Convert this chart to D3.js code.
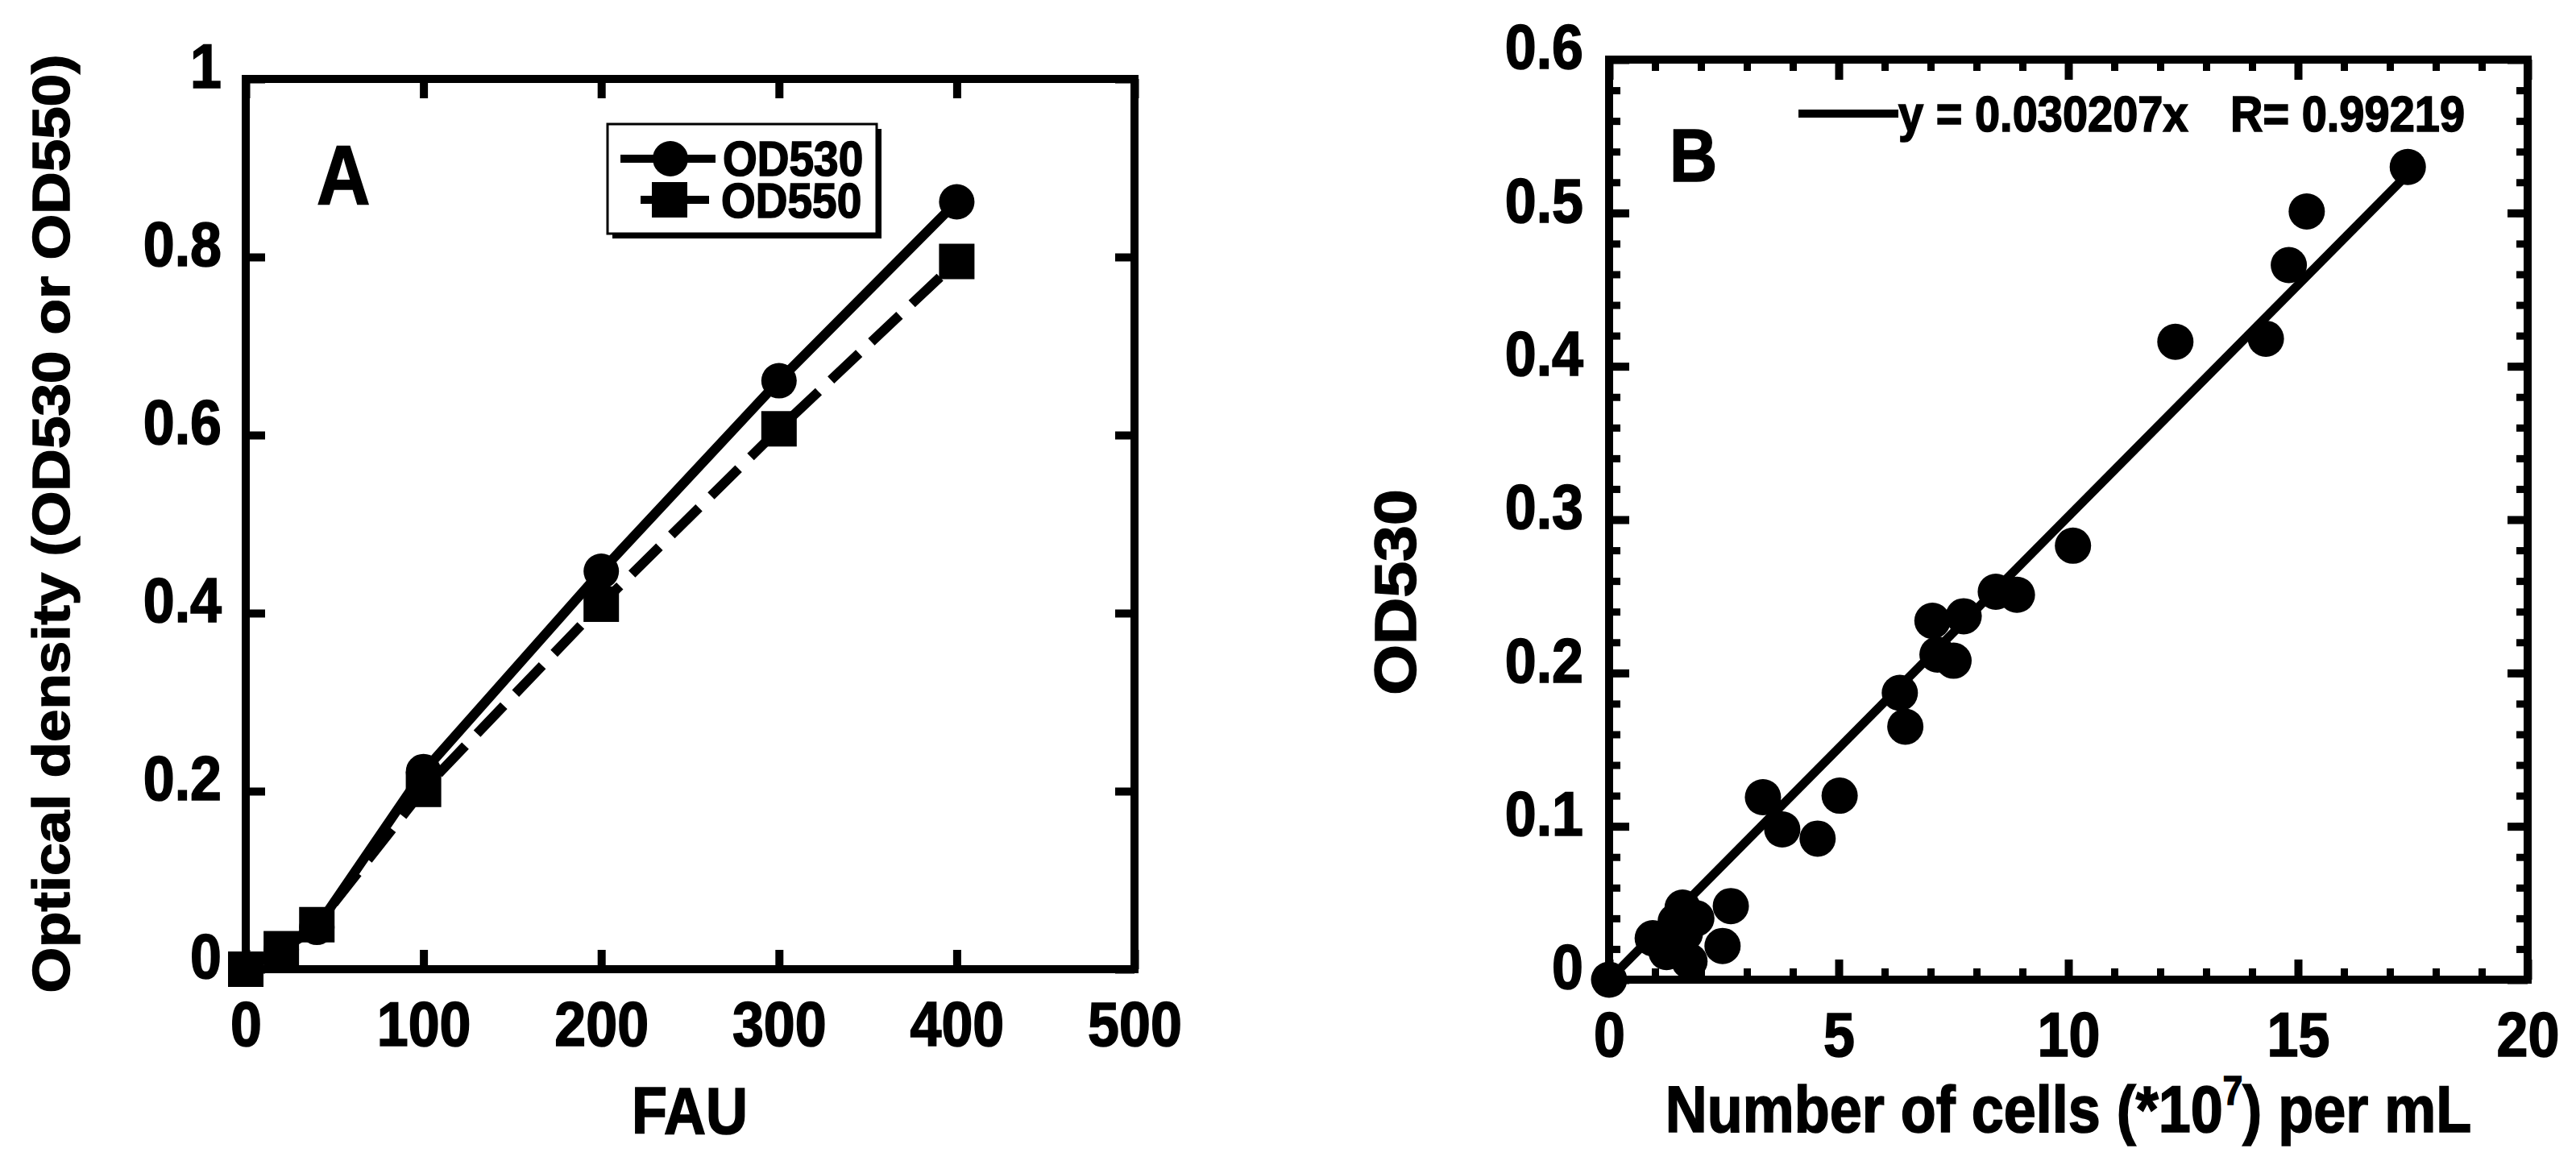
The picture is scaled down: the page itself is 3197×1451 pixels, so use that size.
<!DOCTYPE html>
<html>

<head>
    <meta charset="utf-8">
    <style type="text/css">
        body {
            margin: 0;
            background: #fff;
        }

        text {
            font-family: "Liberation Sans", Arial, Helvetica, sans-serif;
            font-weight: bold;
            fill: #000;
            stroke: #000;
            stroke-width: 1.5px;
        }
    </style>
</head>

<body>
    <div id="canvas"></div>

    <script type="text/javascript" src="https://cdn.jsdelivr.net/npm/d3@7/dist/d3.min.js"></script>
    <script type="text/javascript">
        // panel A
        var fauValues = [0, 20, 40, 100, 200, 300, 400];
        var od530Values = [0, 0.022, 0.047, 0.222, 0.447, 0.661, 0.862];
        var od550Values = [0, 0.023, 0.05, 0.202, 0.41, 0.607, 0.795];
        var aXTicks = [0, 100, 200, 300, 400, 500];
        var aXTickLabels = ["0", "100", "200", "300", "400", "500"];
        var aYTicks = [0, 0.2, 0.4, 0.6, 0.8, 1];
        var aYTickLabels = ["0", "0.2", "0.4", "0.6", "0.8", "1"];
        var aSeriesNames = ["OD530", "OD550"];

        // panel B
        var cellValues = [0, 0.95, 1.25, 1.45, 1.6, 1.65, 1.75, 1.9, 2.47, 2.65, 3.35, 3.77, 4.54, 5.02,
            6.33, 6.45, 7.04, 7.15, 7.5, 7.72, 8.42, 8.88, 10.1, 12.33, 14.3, 14.8, 15.19, 17.39];
        var cellOD530 = [0, 0.027, 0.018, 0.038, 0.047, 0.03, 0.012, 0.04, 0.022, 0.048, 0.119, 0.098, 0.092, 0.12,
            0.187, 0.165, 0.234, 0.212, 0.208, 0.237, 0.253, 0.251, 0.283, 0.416, 0.418, 0.466, 0.501, 0.53];
        var bXTicks = [0, 5, 10, 15, 20];
        var bXTickLabels = ["0", "5", "10", "15", "20"];
        var bYTicks = [0, 0.1, 0.2, 0.3, 0.4, 0.5, 0.6];
        var bYTickLabels = ["0", "0.1", "0.2", "0.3", "0.4", "0.5", "0.6"];
        var fitSlope = 0.030207;
        var fitR = "0.99219";

        (function () {
            var W = 3197, H = 1451;
            var stretch = 1.12; // the scan is a bit taller than wide, text too

            var svg = d3.select('#canvas').append('svg')
                .attr('width', W)
                .attr('height', H);
            svg.append('rect').attr('width', W).attr('height', H).attr('fill', '#fff');

            var label = function (parent, x, y, str, size, anchor) {
                return parent.append('text')
                    .attr('transform', 'translate(' + x + ',' + y + ') scale(1,' + stretch + ')')
                    .attr('text-anchor', anchor || 'start')
                    .style('font-size', size + 'px')
                    .text(str);
            };

            var vlabel = function (parent, x, y, str, size) {
                return parent.append('text')
                    .attr('transform', 'translate(' + x + ',' + y + ') rotate(-90) scale(' + stretch + ',1)')
                    .attr('text-anchor', 'middle')
                    .style('font-size', size + 'px')
                    .text(str);
            };

            var styleAxis = function (g, width) {
                g.select('.domain').remove();
                g.selectAll('line').attr('stroke', '#000').attr('stroke-width', width);
            };

            // axes that only carry ticks: drop their empty labels
            var ticksOnly = function (g, width) {
                styleAxis(g, width);
                g.selectAll('text').remove();
            };

            var styleLabels = function (g, dy) {
                g.selectAll('text')
                    .style('font-size', '70px')
                    .attr('fill', '#000')
                    .attr('transform', 'scale(1,' + stretch + ')');
                if (dy) g.selectAll('text').attr('dy', dy);
            };

            var frame = function (x, y) {
                svg.append('rect')
                    .attr('x', x.range()[0])
                    .attr('y', y.range()[1])
                    .attr('width', x.range()[1] - x.range()[0])
                    .attr('height', y.range()[0] - y.range()[1])
                    .attr('fill', 'none')
                    .attr('stroke', '#000')
                    .attr('stroke-width', 10);
            };

            // ---------- panel A ----------
            var xA = d3.scaleLinear().domain([0, 500]).range([305, 1408]);
            var yA = d3.scaleLinear().domain([0, 1]).range([1203, 98]);

            svg.append('g').attr('transform', 'translate(0,' + yA(0) + ')')
                .call(d3.axisBottom(xA).tickValues(aXTicks).tickFormat(function (d, i) { return aXTickLabels[i]; })
                    .tickSizeInner(-24).tickSizeOuter(0).tickPadding(35))
                .call(styleAxis, 10).call(styleLabels);
            svg.append('g').attr('transform', 'translate(' + xA(0) + ',0)')
                .call(d3.axisLeft(yA).tickValues(aYTicks).tickFormat(function (d, i) { return aYTickLabels[i]; })
                    .tickSizeInner(-24).tickSizeOuter(0).tickPadding(30))
                .call(styleAxis, 10).call(styleLabels, '0.14em');
            svg.append('g').attr('transform', 'translate(0,' + yA(1) + ')')
                .call(d3.axisTop(xA).tickValues(aXTicks).tickSizeInner(-24).tickSizeOuter(0))
                .call(ticksOnly, 10);
            svg.append('g').attr('transform', 'translate(' + xA(500) + ',0)')
                .call(d3.axisRight(yA).tickValues(aYTicks).tickSizeInner(-24).tickSizeOuter(0))
                .call(ticksOnly, 10);
            frame(xA, yA);

            var lineA = d3.line()
                .x(function (d) { return xA(d[0]); })
                .y(function (d) { return yA(d[1]); });
            var od530 = d3.zip(fauValues, od530Values);
            var od550 = d3.zip(fauValues, od550Values);

            svg.append('path').datum(od550).attr('d', lineA)
                .attr('fill', 'none').attr('stroke', '#000').attr('stroke-width', 12)
                .attr('stroke-dasharray', '48,21');
            svg.append('path').datum(od530).attr('d', lineA)
                .attr('fill', 'none').attr('stroke', '#000').attr('stroke-width', 12)
                .attr('stroke-linejoin', 'round');

            svg.selectAll('circle.a').data(od530).enter().append('circle')
                .attr('class', 'a')
                .attr('cx', function (d) { return xA(d[0]); })
                .attr('cy', function (d) { return yA(d[1]); })
                .attr('r', 22);
            svg.selectAll('rect.a').data(od550).enter().append('rect')
                .attr('class', 'a')
                .attr('x', function (d) { return xA(d[0]) - 22; })
                .attr('y', function (d) { return yA(d[1]) - 22; })
                .attr('width', 44)
                .attr('height', 44);

            label(svg, 393, 253, 'A', 92);
            label(svg, 856, 1407, 'FAU', 72, 'middle');
            vlabel(svg, 86, 650, 'Optical density (OD530 or OD550)', 65);

            // legend A
            var legA = svg.append('g');
            legA.append('rect').attr('x', 760).attr('y', 160).attr('width', 334).attr('height', 136).attr('fill', '#000');
            legA.append('rect').attr('x', 754).attr('y', 154).attr('width', 334).attr('height', 136)
                .attr('fill', '#fff').attr('stroke', '#000').attr('stroke-width', 3);
            legA.append('line').attr('x1', 770).attr('x2', 888).attr('y1', 197).attr('y2', 197)
                .attr('stroke', '#000').attr('stroke-width', 10);
            legA.append('circle').attr('cx', 832).attr('cy', 197).attr('r', 22);
            label(legA, 897, 218, aSeriesNames[0], 55);
            legA.append('line').attr('x1', 795).attr('x2', 880).attr('y1', 248).attr('y2', 248)
                .attr('stroke', '#000').attr('stroke-width', 10);
            legA.append('rect').attr('x', 809).attr('y', 226).attr('width', 44).attr('height', 44);
            label(legA, 895, 270, aSeriesNames[1], 55);

            // ---------- panel B ----------
            var xB = d3.scaleLinear().domain([0, 20]).range([1997, 3137]);
            var yB = d3.scaleLinear().domain([0, 0.6]).range([1216, 74]);
            var xMinor = xB.ticks(20), yMinor = yB.ticks(30);

            svg.append('g').attr('transform', 'translate(0,' + yB(0) + ')')
                .call(d3.axisBottom(xB).tickValues(xMinor).tickSizeInner(-14).tickSizeOuter(0))
                .call(ticksOnly, 9);
            svg.append('g').attr('transform', 'translate(0,' + yB(0.6) + ')')
                .call(d3.axisTop(xB).tickValues(xMinor).tickSizeInner(-14).tickSizeOuter(0))
                .call(ticksOnly, 9);
            svg.append('g').attr('transform', 'translate(' + xB(0) + ',0)')
                .call(d3.axisLeft(yB).tickValues(yMinor).tickSizeInner(-14).tickSizeOuter(0))
                .call(ticksOnly, 9);
            svg.append('g').attr('transform', 'translate(' + xB(20) + ',0)')
                .call(d3.axisRight(yB).tickValues(yMinor).tickSizeInner(-14).tickSizeOuter(0))
                .call(ticksOnly, 9);

            svg.append('g').attr('transform', 'translate(0,' + yB(0) + ')')
                .call(d3.axisBottom(xB).tickValues(bXTicks).tickFormat(function (d, i) { return bXTickLabels[i]; })
                    .tickSizeInner(-25).tickSizeOuter(0).tickPadding(35))
                .call(styleAxis, 10).call(styleLabels);
            svg.append('g').attr('transform', 'translate(' + xB(0) + ',0)')
                .call(d3.axisLeft(yB).tickValues(bYTicks).tickFormat(function (d, i) { return bYTickLabels[i]; })
                    .tickSizeInner(-25).tickSizeOuter(0).tickPadding(32))
                .call(styleAxis, 10).call(styleLabels, '0.14em');
            svg.append('g').attr('transform', 'translate(0,' + yB(0.6) + ')')
                .call(d3.axisTop(xB).tickValues(bXTicks).tickSizeInner(-25).tickSizeOuter(0))
                .call(ticksOnly, 10);
            svg.append('g').attr('transform', 'translate(' + xB(20) + ',0)')
                .call(d3.axisRight(yB).tickValues(bYTicks).tickSizeInner(-25).tickSizeOuter(0))
                .call(ticksOnly, 10);
            frame(xB, yB);

            var fitEnd = d3.max(cellValues);
            svg.append('path')
                .datum([[0, 0], [fitEnd, fitSlope * fitEnd]])
                .attr('d', d3.line().x(function (d) { return xB(d[0]); }).y(function (d) { return yB(d[1]); }))
                .attr('fill', 'none').attr('stroke', '#000').attr('stroke-width', 11);

            svg.selectAll('circle.b').data(d3.zip(cellValues, cellOD530)).enter().append('circle')
                .attr('class', 'b')
                .attr('cx', function (d) { return xB(d[0]); })
                .attr('cy', function (d) { return yB(d[1]); })
                .attr('r', 22.5);

            label(svg, 2072, 225, 'B', 82);
            svg.append('line').attr('x1', 2232).attr('x2', 2356).attr('y1', 141).attr('y2', 141)
                .attr('stroke', '#000').attr('stroke-width', 10);
            label(svg, 2356, 163, 'y = ' + fitSlope + 'x', 56);
            label(svg, 2768, 163, 'R= ' + fitR, 56);

            var xt = svg.append('text')
                .attr('transform', 'translate(' + ((xB(0) + xB(20)) / 2) + ',1405) scale(1,' + stretch + ')')
                .attr('text-anchor', 'middle')
                .style('font-size', '72px');
            xt.append('tspan').text('Number of cells (*10');
            xt.append('tspan').attr('dy', -30).style('font-size', '44px').text('7');
            xt.append('tspan').attr('dy', 30).text(') per mL');

            vlabel(svg, 1757, 735, 'OD530', 72);
        })();
    </script>
</body>

</html>
